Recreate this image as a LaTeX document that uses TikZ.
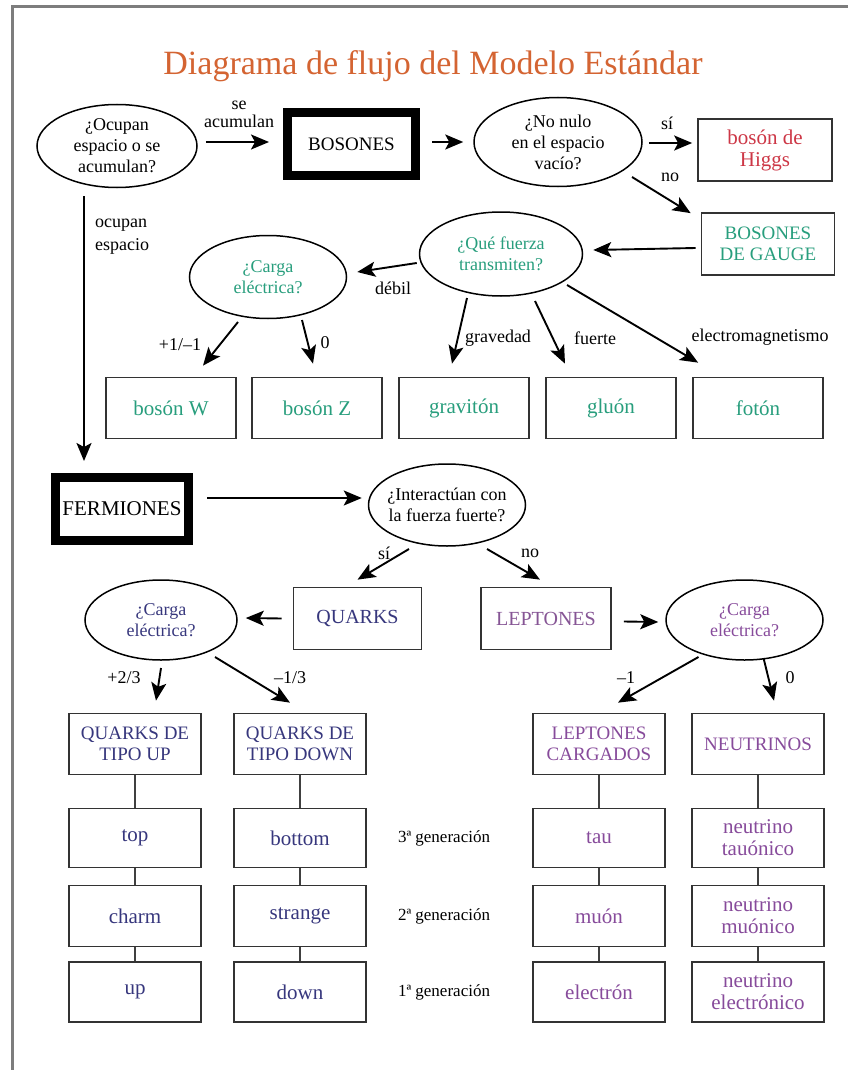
\documentclass[tikz,border=0pt]{standalone}
\usepackage{fontspec}
\setmainfont{Liberation Serif}
\usetikzlibrary{shapes.geometric,arrows.meta,calc}
\definecolor{cTtl}{RGB}{212,100,50}
\definecolor{cTeal}{RGB}{40,158,125}
\definecolor{cRed}{RGB}{205,55,70}
\definecolor{cNavy}{RGB}{55,55,125}
\definecolor{cPurp}{RGB}{135,75,155}
\definecolor{cFrame}{RGB}{125,125,125}
\tikzset{
 ell/.style={ellipse, draw=black, line width=1.5pt, inner sep=0pt},
 etxt/.style={align=center, font=\fontsize{18}{21}\selectfont, inner sep=0pt},
 box/.style={rectangle, draw=black!80, line width=1.7pt, inner sep=0pt, align=center, font=\fontsize{21}{22}\selectfont},
 capbox/.style={box, font=\fontsize{19}{21}\selectfont},
 heavy/.style={rectangle, draw=black, line width=9pt, inner sep=0pt, align=center, font=\fontsize{20}{22}\selectfont},
 arr/.style={-{Stealth[length=18pt,width=15pt,inset=4pt]}, line width=1.9pt},
 lab/.style={font=\fontsize{18}{18}\selectfont, inner sep=0pt, align=center},
 gen/.style={font=\fontsize{17}{17}\selectfont, inner sep=0pt},
 link/.style={line width=1.2pt, draw=black!75},
}
\begin{document}
\begin{tikzpicture}[x=1pt,y=-1pt]
\useasboundingbox (0,0) rectangle (847,1070);
\fill[white] (0,0) rectangle (847,1070);
\draw[cFrame, line width=3pt] (12,1072) -- (12,7) -- (849,7);

% title
\node[anchor=base, text=cTtl, font=\fontsize{34}{36}\selectfont, inner sep=0pt] (title) at (433,75) {Diagrama de flujo del Modelo Estándar};

% ---- bosons part
\node[ell, minimum width=160pt, minimum height=83pt] (A) at (117,146) {};
\node[etxt] (At) at (A.center) {¿Ocupan\\espacio o se\\acumulan?};
\node[heavy, minimum width=128pt, minimum height=63pt] (Bos) at (351.5,144) {\fontsize{19}{21}\selectfont BOSONES};
\node[ell, minimum width=168pt, minimum height=89pt] (B) at (558,142) {};
\node[etxt] (Bt) at (B.center) {¿No nulo\\en el espacio\\vacío?};
\node[box, minimum width=134pt, minimum height=62pt, text=cRed] (Higgs) at (765,150) {bosón de\\Higgs};
\node[capbox, minimum width=133pt, minimum height=62pt, text=cTeal] (Gauge) at (768,244) {BOSONES\\DE GAUGE};
\node[ell, minimum width=163pt, minimum height=84pt] (C) at (501,254) {};
\node[etxt, text=cTeal] (Ct) at (C.center) {¿Qué fuerza\\transmiten?};
\node[ell, minimum width=157pt, minimum height=83pt] (D) at (268,277) {};
\node[etxt, text=cTeal] (Dt) at (D.center) {¿Carga\\eléctrica?};

\node[box, minimum width=130pt, minimum height=61pt, text=cTeal] (W) at (171,408) {bosón W};
\node[box, minimum width=130pt, minimum height=61pt, text=cTeal] (Z) at (317,408) {bosón Z};
\node[box, minimum width=130pt, minimum height=61pt, text=cTeal] (Grav) at (464,408) {gravitón};
\node[box, minimum width=130pt, minimum height=61pt, text=cTeal] (Glu) at (611,408) {gluón};
\node[box, minimum width=130pt, minimum height=61pt, text=cTeal] (Fot) at (758,408) {fotón};

% labels
\node[lab] (lSe) at (239,114) {se\\acumulan};
\node[lab] (lSi1) at (667,123) {sí};
\node[lab] (lNo1) at (670,177) {no};
\node[lab, anchor=west, align=left, font=\fontsize{18}{23}\selectfont] (lOcu) at (95,237) {ocupan\\espacio};
\node[lab] (lDeb) at (393,288) {débil};
\node[lab] (lPM) at (180,345) {+1/–1};
\node[lab] (l0a) at (325,343) {0};
\node[lab] (lGrav) at (498,338) {gravedad};
\node[lab] (lFue) at (595,338) {fuerte};
\node[lab] (lEM) at (760,337) {electromagnetismo};

% arrows (bosons)
\draw[arr] ($(A.east)+(8,-4)$) -- ($(Bos.west)+(-14,-2)$);
\draw[arr] ($(Bos.east)+(12,-2)$) -- ($(B.west)+(-10,0)$);
\draw[arr] ($(B.east)+(6,1)$) -- ($(Higgs.west)+(-5,-7)$);
\draw[arr] ($(B.center)+(74,35)$) -- ($(Gauge.north west)+(-10,1)$);
\draw[arr] ($(Gauge.west)+(-5,4)$) -- ($(C.east)+(10,-4)$);
\draw[arr] ($(C.west)+(-2,9)$) -- ($(D.east)+(10,-5)$);
\draw[arr] ($(D.center)+(-30,45)$) -- ($(W.north)+(32,-11)$);
\draw[arr] ($(D.center)+(34,43)$) -- ($(Z.north)+(-4,-13)$);
\draw[arr] ($(C.center)+(-34,44)$) -- ($(Grav.north)+(-12,-13)$);
\draw[arr] ($(C.center)+(34,47)$) -- ($(Glu.north)+(-46,-13)$);
\draw[arr] ($(C.center)+(66,31)$) -- ($(Fot.north west)+(6,-14)$);

% ---- fermions part
\node[heavy, minimum width=133pt, minimum height=63pt] (Ferm) at (122,509) {\fontsize{21}{22}\selectfont FERMIONES};
\draw[arr] ($(A.south)+(-33,8)$) -- ($(Ferm.north)+(-38,-12)$);
\node[ell, minimum width=157pt, minimum height=82pt] (E) at (447,505) {};
\node[etxt] (Et) at (E.center) {¿Interactúan con\\la fuerza fuerte?};
\node[box, minimum width=128pt, minimum height=62pt, text=cNavy, font=\fontsize{20}{22}\selectfont] (Q) at (357.5,618.5) {QUARKS};
\node[box, minimum width=130pt, minimum height=62pt, text=cPurp!80!gray, font=\fontsize{20}{22}\selectfont] (L) at (546,618.5) {LEPTONES};
\node[ell, minimum width=152pt, minimum height=80pt] (F) at (161,620) {};
\node[etxt, text=cNavy] (Ft) at (F.center) {¿Carga\\eléctrica?};
\node[ell, minimum width=157pt, minimum height=80pt] (G) at (744.5,620) {};
\node[etxt, text=cPurp] (Gt) at (G.center) {¿Carga\\eléctrica?};

\node[lab] (lSi2) at (384,553) {sí};
\node[lab] (lNo2) at (530,553) {no};
\node[lab] (lP23) at (124,678) {+2/3};
\node[lab] (lM13) at (290,678) {–1/3};
\node[lab] (lM1) at (626,678) {–1};
\node[lab] (l0b) at (790,678) {0};

\draw[arr] ($(Ferm.east)+(14,-11)$) -- ($(E.west)+(-6,-7)$);
\draw[arr] ($(E.center)+(-38,44)$) -- ($(Q.north)+(0,-7)$);
\draw[arr] ($(E.center)+(40,44)$) -- ($(L.north)+(-6,-7)$);
\draw[arr] ($(Q.west)+(-11,0)$) -- ($(F.east)+(8,-2)$);
\draw[arr] ($(L.east)+(12,3)$) -- ($(G.west)+(-7,2)$);

% columns
\node[capbox, minimum width=132pt, minimum height=61pt, text=cNavy] (UP) at (135,744) {QUARKS DE\\TIPO UP};
\node[capbox, minimum width=132pt, minimum height=61pt, text=cNavy] (DN) at (300,744) {QUARKS DE\\TIPO DOWN};
\node[capbox, minimum width=132pt, minimum height=61pt, text=cPurp] (LC) at (599,744) {LEPTONES\\CARGADOS};
\node[capbox, minimum width=132pt, minimum height=61pt, text=cPurp] (NU) at (758,744) {NEUTRINOS};

\draw[arr] ($(F.center)+(0,48)$) -- ($(UP.north)+(21,-12)$);
\draw[arr] ($(F.center)+(54,37)$) -- ($(DN.north)+(-10,-10)$);
\draw[arr] ($(G.center)+(-46,37)$) -- ($(LC.north)+(19,-10)$);
\draw[arr] ($(G.center)+(19,38)$) -- ($(NU.north)+(16,-12)$);

\node[box, minimum width=132pt, minimum height=59pt, text=cNavy] (top) at (135,838) {top};
\node[box, minimum width=132pt, minimum height=61pt, text=cNavy] (charm) at (135,916) {charm};
\node[box, minimum width=132pt, minimum height=60pt, text=cNavy] (up) at (135,992) {up};
\node[box, minimum width=132pt, minimum height=59pt, text=cNavy] (bottom) at (300,838) {bottom};
\node[box, minimum width=132pt, minimum height=61pt, text=cNavy] (strange) at (300,916) {strange};
\node[box, minimum width=132pt, minimum height=60pt, text=cNavy] (down) at (300,992) {down};
\node[box, minimum width=132pt, minimum height=59pt, text=cPurp] (tau) at (599,838) {tau};
\node[box, minimum width=132pt, minimum height=61pt, text=cPurp] (muon) at (599,916) {muón};
\node[box, minimum width=132pt, minimum height=60pt, text=cPurp] (elec) at (599,992) {electrón};
\node[box, minimum width=132pt, minimum height=59pt, text=cPurp] (ntau) at (758,838) {neutrino\\tauónico};
\node[box, minimum width=132pt, minimum height=61pt, text=cPurp] (nmu) at (758,916) {neutrino\\muónico};
\node[box, minimum width=132pt, minimum height=60pt, text=cPurp] (nel) at (758,992) {neutrino\\electrónico};

\node[gen] (g3) at (444,838) {3ª generación};
\node[gen] (g2) at (444,916) {2ª generación};
\node[gen] (g1) at (444,992) {1ª generación};

\draw[link] (UP.south) -- (top.north) (top.south) -- (charm.north) (charm.south) -- (up.north);
\draw[link] (DN.south) -- (bottom.north) (bottom.south) -- (strange.north) (strange.south) -- (down.north);
\draw[link] (LC.south) -- (tau.north) (tau.south) -- (muon.north) (muon.south) -- (elec.north);
\draw[link] (NU.south) -- (ntau.north) (ntau.south) -- (nmu.north) (nmu.south) -- (nel.north);
\end{tikzpicture}
\end{document}
